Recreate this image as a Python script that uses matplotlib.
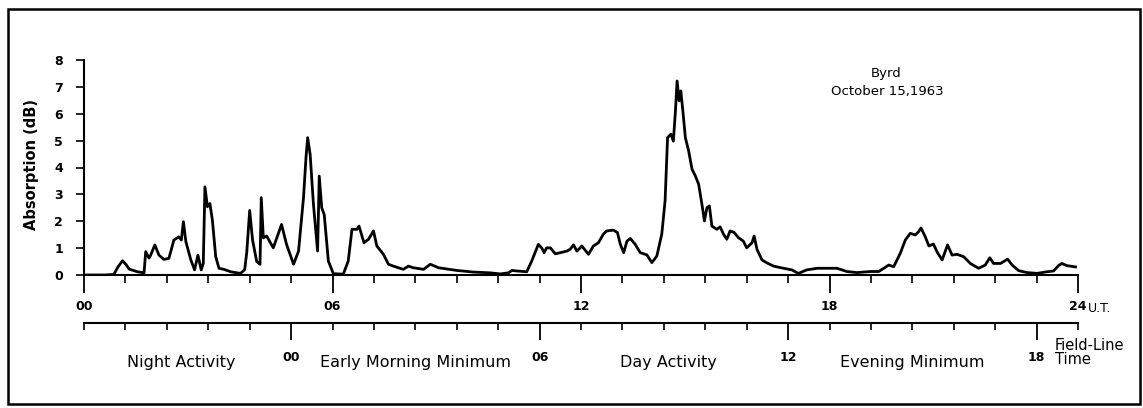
import matplotlib
matplotlib.use("Agg")
import matplotlib.pyplot as plt
import matplotlib.transforms as mtransforms
from matplotlib.patches import Rectangle
from matplotlib.ticker import FixedLocator

# ---------------- data ----------------
ut_hours = [0.0, 0.5, 0.72, 0.82, 0.93, 1.02, 1.09, 1.29, 1.45, 1.49, 1.57, 1.61, 1.71, 1.81,
            1.93, 2.05, 2.17, 2.29, 2.35, 2.40, 2.46, 2.58, 2.67, 2.75, 2.83, 2.88, 2.92, 2.98,
            3.04, 3.10, 3.18, 3.26, 3.38, 3.54, 3.78, 3.88, 3.93, 4.00, 4.07, 4.17, 4.25, 4.28,
            4.33, 4.41, 4.57, 4.77, 4.89, 5.06, 5.18, 5.30, 5.36, 5.40, 5.46, 5.54, 5.64, 5.68,
            5.74, 5.80, 5.90, 6.02, 6.26, 6.38, 6.47, 6.59, 6.64, 6.76, 6.87, 6.99, 7.07, 7.23,
            7.35, 7.47, 7.71, 7.83, 7.95, 8.20, 8.36, 8.56, 9.00, 9.40, 9.81, 10.05, 10.25, 10.33,
            10.45, 10.69, 10.81, 10.89, 10.97, 11.05, 11.11, 11.17, 11.26, 11.38, 11.50, 11.66,
            11.74, 11.82, 11.90, 11.98, 12.02, 12.18, 12.30, 12.42, 12.54, 12.62, 12.78, 12.88,
            12.95, 13.03, 13.11, 13.19, 13.31, 13.43, 13.59, 13.71, 13.83, 13.95, 14.03, 14.09,
            14.17, 14.23, 14.28, 14.32, 14.37, 14.41, 14.46, 14.52, 14.60, 14.68, 14.76, 14.84,
            14.92, 14.98, 15.04, 15.10, 15.16, 15.28, 15.36, 15.44, 15.52, 15.60, 15.70, 15.80,
            15.92, 16.00, 16.13, 16.18, 16.25, 16.37, 16.49, 16.65, 16.89, 17.09, 17.25, 17.45,
            17.70, 17.94, 18.18, 18.42, 18.66, 18.99, 19.19, 19.31, 19.43, 19.55, 19.71, 19.83,
            19.95, 20.07, 20.15, 20.21, 20.31, 20.40, 20.51, 20.60, 20.72, 20.85, 20.96, 21.08,
            21.24, 21.40, 21.60, 21.76, 21.87, 21.96, 22.13, 22.30, 22.41, 22.57, 22.77, 23.01,
            23.25, 23.41, 23.53, 23.61, 23.73, 23.94]
absorption_db = [0.0, 0.0, 0.02, 0.30, 0.53, 0.38, 0.22, 0.12, 0.08, 0.87, 0.63, 0.74, 1.12, 0.74,
                 0.58, 0.62, 1.30, 1.42, 1.30, 1.98, 1.24, 0.56, 0.19, 0.74, 0.19, 0.43, 3.28, 2.54,
                 2.66, 2.04, 0.68, 0.25, 0.21, 0.12, 0.06, 0.20, 0.85, 2.40, 1.30, 0.50, 0.40, 2.88,
                 1.38, 1.45, 1.01, 1.88, 1.14, 0.40, 0.89, 2.88, 4.37, 5.11, 4.49, 2.63, 0.89, 3.68,
                 2.50, 2.25, 0.52, 0.05, 0.03, 0.52, 1.70, 1.70, 1.82, 1.20, 1.33, 1.64, 1.08, 0.77,
                 0.40, 0.33, 0.21, 0.33, 0.27, 0.21, 0.40, 0.27, 0.17, 0.11, 0.08, 0.04, 0.08, 0.17,
                 0.15, 0.12, 0.52, 0.83, 1.14, 1.01, 0.83, 1.01, 1.01, 0.79, 0.83, 0.89,
                 0.96, 1.12, 0.89, 1.01, 1.08, 0.77, 1.08, 1.20, 1.52, 1.64, 1.67, 1.58,
                 1.14, 0.83, 1.26, 1.36, 1.14, 0.83, 0.75, 0.46, 0.70, 1.52, 2.75, 5.11,
                 5.24, 4.98, 6.10, 7.22, 6.48, 6.85, 6.10, 5.11, 4.61, 3.94, 3.69, 3.38,
                 2.63, 2.01, 2.50, 2.57, 1.82, 1.70, 1.79, 1.52, 1.33, 1.64, 1.58, 1.39,
                 1.26, 1.01, 1.20, 1.45, 0.95, 0.56, 0.45, 0.33, 0.25, 0.19, 0.06, 0.19,
                 0.25, 0.25, 0.25, 0.13, 0.09, 0.13, 0.13, 0.25, 0.37, 0.31, 0.81, 1.30,
                 1.55, 1.49, 1.61, 1.75, 1.43, 1.08, 1.15, 0.85, 0.56, 1.12, 0.74, 0.77,
                 0.68, 0.43, 0.25, 0.37, 0.64, 0.43, 0.43, 0.59, 0.37, 0.16, 0.09, 0.06,
                 0.12, 0.15, 0.35, 0.43, 0.35, 0.30]

y_ticks = [0, 1, 2, 3, 4, 5, 6, 7, 8]
ut_major = [0, 6, 12, 18, 24]
ut_major_labels = ["00", "06", "12", "18", "24"]
ut_minor = [h for h in range(25) if h % 6 != 0]
flt_major_ut = [5, 11, 17, 23]
flt_major_labels = ["00", "06", "12", "18"]
flt_minor_ut = [h for h in range(25) if h not in (5, 11, 17, 23)]
region_labels = ["Night Activity", "Early Morning Minimum", "Day Activity", "Evening Minimum"]
region_centers_ut = [2.35, 8.0, 14.1, 20.0]

# ---------------- layout helpers ----------------
W, H = 1143, 408
def fx(px):
    return px / W
def fy(py):
    return 1 - py / H

plt.rcParams["font.family"] = ["DejaVu Sans"]
fig = plt.figure(figsize=(W / 100, H / 100), dpi=100)
fig.patch.set_facecolor("white")

# frame
fig.patches.append(Rectangle((fx(8), fy(404)), fx(1140) - fx(8), fy(9) - fy(404),
                             transform=fig.transFigure, fill=False, lw=1.8, ec="black"))

x0, x1 = 84, 1078
ax = fig.add_axes([fx(x0), fy(275), fx(x1) - fx(x0), fy(60) - fy(275)])
ax.set_xlim(0, 24)
ax.set_ylim(0, 8)
ax.plot(ut_hours, absorption_db, color="black", lw=2.0, solid_joinstyle="round")
for s in ("top", "right"):
    ax.spines[s].set_visible(False)
for s in ("left", "bottom"):
    ax.spines[s].set_linewidth(1.5)

ax.set_yticks(y_ticks)
ax.set_yticklabels([str(v) for v in y_ticks], fontsize=9, fontweight="bold")
ax.tick_params(axis="y", direction="out", length=6, width=1.2, pad=9)

ax.set_xticks(ut_major)
ax.set_xticklabels(ut_major_labels, fontsize=9, fontweight="bold")
ax.xaxis.set_minor_locator(FixedLocator(ut_minor))
ax.tick_params(axis="x", which="major", direction="out", length=13, width=1.3, pad=5)
ax.tick_params(axis="x", which="minor", direction="out", length=6, width=1.2)

fig.text(fx(1088), fy(309), "U.T.", fontsize=9, ha="left", va="center")
fig.text(fx(32), fy(164), "Absorption (dB)", rotation=90, fontsize=10.5,
         fontweight="bold", ha="center", va="center")

# field-line time axis
ax2 = fig.add_axes([fx(x0), fy(323), fx(x1) - fx(x0), 0.0001])
ax2.set_xlim(0, 24)
ax2.set_yticks([])
for s in ("top", "right", "left"):
    ax2.spines[s].set_visible(False)
ax2.spines["bottom"].set_linewidth(1.5)
ax2.patch.set_alpha(0)
ax2.set_xticks(flt_major_ut)
ax2.set_xticklabels(flt_major_labels, fontsize=9, fontweight="bold")
ax2.xaxis.set_minor_locator(FixedLocator(flt_minor_ut))
ax2.tick_params(axis="x", which="major", direction="out", length=12, width=1.3, pad=8)
ax2.tick_params(axis="x", which="minor", direction="out", length=5, width=1.2)

row = mtransforms.blended_transform_factory(ax2.transData, fig.transFigure)
for lab, c in zip(region_labels, region_centers_ut):
    ax2.text(c, fy(363), lab, transform=row, fontsize=11.5, ha="center", va="center")

fig.text(fx(1055), fy(345), "Field-Line", fontsize=10.5, ha="left", va="center")
fig.text(fx(1055), fy(359), "Time", fontsize=10.5, ha="left", va="center")

fig.text(fx(886), fy(74), "Byrd", fontsize=9.5, ha="center", va="center")
fig.text(fx(887), fy(92), "October 15,1963", fontsize=9.5, ha="center", va="center")

fig.savefig("out.png", dpi=100, facecolor="white")
